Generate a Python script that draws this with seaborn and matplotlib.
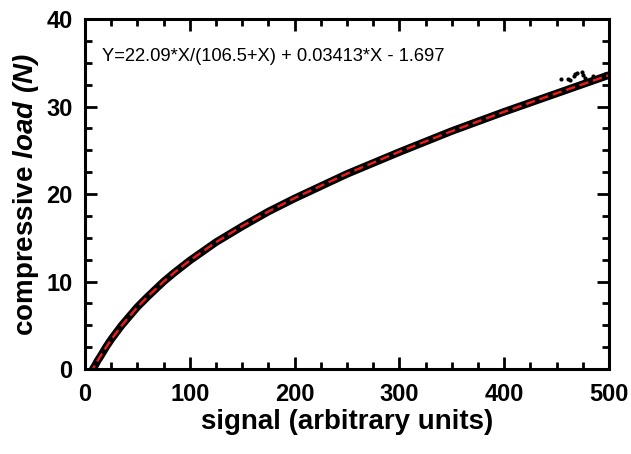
import matplotlib
matplotlib.use("Agg")
import matplotlib.pyplot as plt
from matplotlib.ticker import MultipleLocator
import pandas as pd
import seaborn as sns

# values
signal = [5, 8, 10, 12, 15, 20, 25, 30, 35, 40, 50, 60, 75, 85, 100, 125, 150, 175,
          200, 250, 300, 350, 400, 450, 500]
load = [-0.5, 0.1, 0.5, 0.95, 1.5, 2.5, 3.4, 4.2, 5.0, 5.7, 7.1, 8.3, 10.0, 11.0, 12.4,
        14.5, 16.3, 18.0, 19.5, 22.3, 24.8, 27.2, 29.4, 31.5, 33.6]
outlier_signal = [454, 461, 463, 467, 468, 470, 474, 475, 477, 485, 491, 496]
outlier_load = [33.2, 33.1, 33.0, 33.5, 33.7, 33.8, 33.9, 33.6, 33.3, 33.5, 33.4, 33.7]
fit_signal = [5, 8, 10, 12, 15, 20, 25, 30, 35, 40, 50, 60, 75, 85, 100, 125, 150, 175,
              200, 250, 300, 350, 400, 450, 500]
fit_load = [-0.54, 0.12, 0.54, 0.95, 1.54, 2.48, 3.36, 4.18, 4.96, 5.70, 7.07, 8.31, 9.99,
            11.01, 12.41, 14.50, 16.34, 18.0, 19.54, 22.33, 24.84, 27.19, 29.40, 31.52, 33.58]
fit_text = "Y=22.09*X/(106.5+X) + 0.03413*X - 1.697"

sns.set_style("ticks")
plt.rcParams["font.family"] = ["Liberation Sans", "DejaVu Sans"]
plt.rcParams["mathtext.fontset"] = "custom"
plt.rcParams["mathtext.bfit"] = "Liberation Sans:bold:italic"
plt.rcParams["mathtext.bf"] = "Liberation Sans:bold"
plt.rcParams["text.color"] = "black"
plt.rcParams["axes.labelcolor"] = "black"
plt.rcParams["xtick.color"] = "black"
plt.rcParams["ytick.color"] = "black"

data = pd.DataFrame({"signal": signal, "load": load})
fit = pd.DataFrame({"signal": fit_signal, "load": fit_load})
outliers = pd.DataFrame({"signal": outlier_signal, "load": outlier_load})

fig = plt.figure(figsize=(6.31, 4.54), dpi=100)
ax = fig.add_axes([0.1347, 0.187, 0.8303, 0.771])

sns.lineplot(data=data, x="signal", y="load", ax=ax, color="black", lw=5.5,
             solid_capstyle="butt", sort=False)
sns.scatterplot(data=outliers, x="signal", y="load", ax=ax, color="black",
                s=9, linewidth=0)
sns.lineplot(data=fit, x="signal", y="load", ax=ax, color="#ee1c1c", lw=1.7,
             linestyle=(0, (4, 2)), sort=False)

ax.set_xlim(0, 500)
ax.set_ylim(0, 40)
ax.xaxis.set_major_locator(MultipleLocator(100))
ax.xaxis.set_minor_locator(MultipleLocator(25))
ax.yaxis.set_major_locator(MultipleLocator(10))
ax.yaxis.set_minor_locator(MultipleLocator(2.5))
ax.tick_params(which="both", direction="in", top=True, right=True, width=2)
ax.tick_params(which="major", length=8.5, labelsize=17)
ax.tick_params(axis="x", which="major", pad=10)
ax.tick_params(axis="y", which="major", pad=9)
ax.tick_params(which="minor", length=5)
for lab in ax.get_xticklabels() + ax.get_yticklabels():
    lab.set_fontweight("bold")
for sp in ax.spines.values():
    sp.set_linewidth(2.2)
    sp.set_color("black")

ax.set_xlabel("signal (arbitrary units)", fontsize=20, fontweight="bold", labelpad=2)
ax.set_ylabel(r"compressive $\mathbfit{load\ (N)}$", fontsize=20, fontweight="bold", labelpad=4)
ax.text(16, 35.7, fit_text, fontsize=13.2, va="center", ha="left")

fig.savefig("out.png", dpi=100)
